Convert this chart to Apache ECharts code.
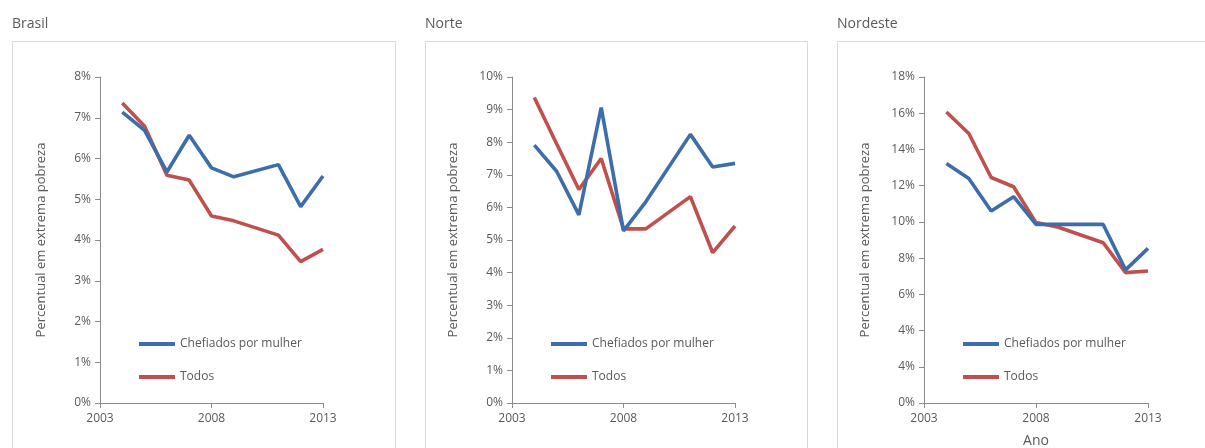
<!DOCTYPE html>
<html><head><meta charset="utf-8">
<script src="https://cdn.jsdelivr.net/npm/echarts@6/dist/echarts.min.js"></script>
<style>html,body{margin:0;padding:0;background:#fff}#c{width:1205px;height:448px}</style>
</head><body><div id="c"></div>
<script>
const panelTitles = ['Brasil', 'Norte', 'Nordeste'];
const seriesNames = ['Chefiados por mulher', 'Todos'];
const years = [2004, 2005, 2006, 2007, 2008, 2009, 2011, 2012, 2013];
const xTickLabels = ['2003', '2008', '2013'];

const brasilMulher = [7.14, 6.69, 5.67, 6.57, 5.77, 5.55, 5.85, 4.82, 5.57];
const brasilTodos  = [7.36, 6.79, 5.59, 5.47, 4.59, 4.47, 4.12, 3.47, 3.77];
const norteMulher  = [7.91, 7.11, 5.77, 9.06, 5.28, 6.17, 8.24, 7.24, 7.35];
const norteTodos   = [9.37, 7.95, 6.55, 7.50, 5.34, 5.34, 6.33, 4.61, 5.43];
const nordesteMulher = [13.23, 12.40, 10.60, 11.39, 9.86, 9.86, 9.86, 7.35, 8.54];
const nordesteTodos  = [16.07, 14.88, 12.45, 11.94, 9.96, 9.70, 8.85, 7.20, 7.29];

const brasilTicks = ['0%','1%','2%','3%','4%','5%','6%','7%','8%'];
const norteTicks = ['0%','1%','2%','3%','4%','5%','6%','7%','8%','9%','10%'];
const nordesteTicks = ['0%','4%','4%','6%','8%','10%','12%','14%','16%','18%'];

const panelData = [[brasilMulher, brasilTodos], [norteMulher, norteTodos], [nordesteMulher, nordesteTodos]];
const panelTicks = [brasilTicks, norteTicks, nordesteTicks];
const panelInterval = [1, 1, 2];

const FONT = 'Open Sans';
const GRAY = '#595959';
const AXIS = '#8c8c8c';
const COLORS = ['#3d6daa', '#c0504d'];
const gridLeft = [100, 512, 924];
const gridWidth = [223, 223, 224];
const frameLeft = [12, 425, 837];
const frameRight = [395, 807, 1215];

const chart = echarts.init(document.getElementById('c'), null, {renderer: 'canvas'});
const option = {
  backgroundColor: '#fff',
  animation: false,
  title: [], grid: [], xAxis: [], yAxis: [], legend: [], series: [],
  graphic: []
};
for (let p = 0; p < 3; p++) {
  option.graphic.push({
    type: 'rect', z: -1,
    shape: {x: frameLeft[p] + 0.5, y: 41.5, width: frameRight[p] - frameLeft[p], height: 430},
    style: {fill: '#fff', stroke: '#d9d9d9', lineWidth: 1}
  });
  option.title.push({
    text: panelTitles[p], left: frameLeft[p] - 5, top: 12,
    textStyle: {fontFamily: FONT, fontSize: 14, fontWeight: 'normal', color: GRAY}
  });
  const ticks = panelTicks[p];
  const iv = panelInterval[p];
  option.grid.push({left: gridLeft[p], top: 77, width: gridWidth[p], height: 326,
    outerBoundsMode: 'none', containLabel: false});
  option.xAxis.push({
    type: 'value', gridIndex: p, min: 2003, max: 2013, interval: 5,
    name: p === 2 ? 'Ano' : '', nameLocation: 'middle', nameGap: 31,
    nameTextStyle: {fontFamily: FONT, fontSize: 14, color: GRAY},
    axisLine: {show: true, lineStyle: {color: AXIS, width: 1}},
    axisTick: {show: true, length: 5, lineStyle: {color: AXIS}},
    axisLabel: {fontFamily: FONT, fontSize: 12, color: GRAY, margin: 10,
      formatter: v => xTickLabels[Math.round((v - 2003) / 5)]},
    splitLine: {show: false}
  });
  option.yAxis.push({
    type: 'value', gridIndex: p, min: 0, max: (ticks.length - 1) * iv, interval: iv,
    name: 'Percentual em extrema pobreza', nameLocation: 'middle', nameGap: 52,
    nameRotate: 90,
    nameTextStyle: {fontFamily: FONT, fontSize: 13, color: GRAY},
    axisLine: {show: true, lineStyle: {color: AXIS, width: 1}},
    axisTick: {show: true, length: 5, lineStyle: {color: AXIS}},
    axisLabel: {fontFamily: FONT, fontSize: 12, color: GRAY, margin: 9,
      formatter: v => ticks[Math.round(v / iv)]},
    splitLine: {show: false}
  });
  option.legend.push({
    orient: 'vertical', left: gridLeft[p] + 39, top: 338, padding: 0,
    itemWidth: 36, itemHeight: 4, itemGap: 21,
    icon: 'rect',
    textStyle: {fontFamily: FONT, fontSize: 12, color: GRAY},
    data: seriesNames.map(n => ({name: n})),
    selectedMode: false
  });
  for (let s = 0; s < 2; s++) {
    option.series.push({
      type: 'line', name: seriesNames[s], xAxisIndex: p, yAxisIndex: p,
      data: years.map((y, i) => [y, panelData[p][s][i]]),
      symbol: 'none', color: COLORS[s],
      lineStyle: {width: 3.6, color: COLORS[s]},
      z: s === 0 ? 3 : 2
    });
  }
}
chart.setOption(option);
</script></body></html>
